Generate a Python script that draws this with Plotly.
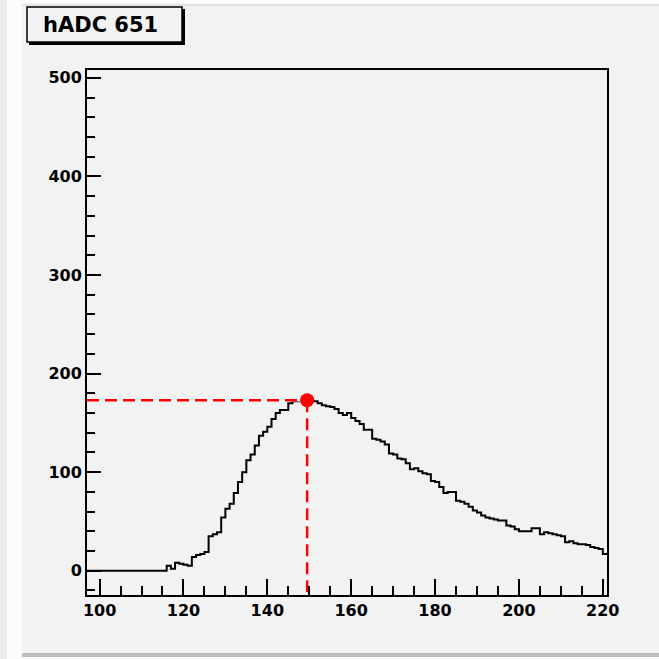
import numpy as np
import plotly.graph_objects as go

# ---------------- data ----------------
title_text = "hADC 651"
bin_start = 97.0          # lower edge of first bin
bin_width = 1.0
counts = [
    0, 0, 0, 0, 0, 0, 0, 0, 0, 0, 0, 0, 0, 0, 0, 0, 0, 0, 0,      # 97-115
    5, 2, 8, 7, 6, 5, 14, 16, 17, 19,                               # 116-125
    35, 37, 39, 54, 63, 68, 79, 90, 100, 112,                       # 126-135
    118, 127, 137, 141, 146, 154, 160, 163, 163, 170,               # 136-145
    172, 172, 172, 173, 172, 172, 170, 168, 167, 166,               # 146-155
    164, 160, 158, 160, 155, 152, 149, 143, 143, 134,               # 156-165
    133, 131, 128, 119, 118, 114, 113, 109, 103, 104,               # 166-175
    101, 99, 98, 91, 90, 85, 79, 80, 80, 71,                        # 176-185
    70, 68, 65, 61, 59, 56, 54, 53, 52, 51,                         # 186-195
    51, 46, 45, 42, 40, 40, 40, 43, 43, 37,                         # 196-205
    39, 38, 37, 36, 35, 29, 30, 28, 27, 27,                         # 206-215
    26, 24, 23, 22, 17,                                             # 216-220
]
x_range = [97, 221]
y_range = [-24.6, 508]

# ---------------- geometry helpers ----------------
W = H = 659
ML, MR, MT, MB = 87, 52, 70, 64
PW = W - ML - MR
PH = H - MT - MB


def px(xp):
    return (xp - ML) / PW


def py(yp):
    return (H - MB - yp) / PH


counts_arr = np.array(counts, dtype=float)
edges = bin_start + bin_width * np.arange(len(counts) + 1)
step_y = np.append(counts_arr, counts_arr[-1])
centers = edges[:-1] + bin_width / 2
imax = int(np.argmax(counts_arr))
peak_x = centers[imax]
peak_y = counts_arr[imax]

fig = go.Figure()

# histogram outline
fig.add_trace(go.Scatter(
    x=edges, y=step_y, mode="lines", line=dict(color="black", width=2, shape="hv"),
    hoverinfo="skip", showlegend=False,
))

# dashed guide lines (white underlay + red dashes)
for col, dash in (("white", "solid"), ("#ff0000", "12px,6px")):
    fig.add_trace(go.Scatter(
        x=[x_range[0], peak_x], y=[peak_y, peak_y], mode="lines",
        line=dict(color=col, width=2.5, dash=dash), hoverinfo="skip", showlegend=False,
    ))
    fig.add_trace(go.Scatter(
        x=[peak_x, peak_x], y=[peak_y, y_range[0]], mode="lines",
        line=dict(color=col, width=2.5, dash=dash), hoverinfo="skip", showlegend=False,
    ))

fig.add_trace(go.Scatter(
    x=[peak_x], y=[peak_y], mode="markers",
    marker=dict(color="#ff0000", size=14, symbol="circle"), showlegend=False,
))

tickfont = dict(family="DejaVu Sans", size=16, color="black", weight="bold")
axis_common = dict(
    showline=True, linecolor="black", linewidth=2, mirror=True,
    ticks="inside", tickcolor="black", tickwidth=1.5,
    showgrid=False, zeroline=False, tickfont=tickfont,
)

fig.update_xaxes(
    range=x_range, tick0=100, dtick=20, ticklen=16,
    minor=dict(ticks="inside", ticklen=9, dtick=5, tick0=100, tickcolor="black", tickwidth=1.5, showgrid=False),
    **axis_common,
)
fig.update_yaxes(
    range=y_range, tick0=0, dtick=100, ticklen=14,
    minor=dict(ticks="inside", ticklen=8, dtick=20, tick0=0, tickcolor="black", tickwidth=1.5, showgrid=False),
    **axis_common,
)

shapes = [
    # left outer strips
    dict(type="rect", xref="paper", yref="paper", x0=px(0), x1=px(7), y0=py(H), y1=py(0),
         fillcolor="#ebebeb", line=dict(width=0), layer="below"),
    dict(type="rect", xref="paper", yref="paper", x0=px(7), x1=px(22), y0=py(H), y1=py(0),
         fillcolor="#fbfbfb", line=dict(width=0), layer="below"),
    # top strip
    dict(type="rect", xref="paper", yref="paper", x0=px(22), x1=px(W), y0=py(4), y1=py(0),
         fillcolor="#fbfbfb", line=dict(width=0), layer="below"),
    dict(type="rect", xref="paper", yref="paper", x0=px(22), x1=px(W), y0=py(6), y1=py(4),
         fillcolor="#e4e4e4", line=dict(width=0), layer="below"),
    # bottom border
    dict(type="rect", xref="paper", yref="paper", x0=px(22), x1=px(W), y0=py(657), y1=py(653),
         fillcolor="#bcbcbc", line=dict(width=0), layer="below"),
    dict(type="rect", xref="paper", yref="paper", x0=px(22), x1=px(W), y0=py(H), y1=py(657),
         fillcolor="#fbfbfb", line=dict(width=0), layer="below"),
    # title box shadow + box
    dict(type="rect", xref="paper", yref="paper", x0=px(29), x1=px(185), y0=py(45), y1=py(9),
         fillcolor="black", line=dict(width=0)),
    dict(type="rect", xref="paper", yref="paper", x0=px(27), x1=px(182), y0=py(42), y1=py(7),
         fillcolor="#f2f2f2", line=dict(color="black", width=1.5)),
]

fig.update_layout(
    width=W, height=H,
    margin=dict(l=ML, r=MR, t=MT, b=MB, autoexpand=False),
    paper_bgcolor="#f2f2f2", plot_bgcolor="#f2f2f2",
    showlegend=False,
    shapes=shapes,
    annotations=[dict(
        text=title_text, xref="paper", yref="paper", x=px(100), y=py(25),
        xanchor="center", yanchor="middle", showarrow=False,
        font=dict(family="DejaVu Sans", size=21, color="black", weight="bold"),
    )],
)

fig.write_html("out.html")
